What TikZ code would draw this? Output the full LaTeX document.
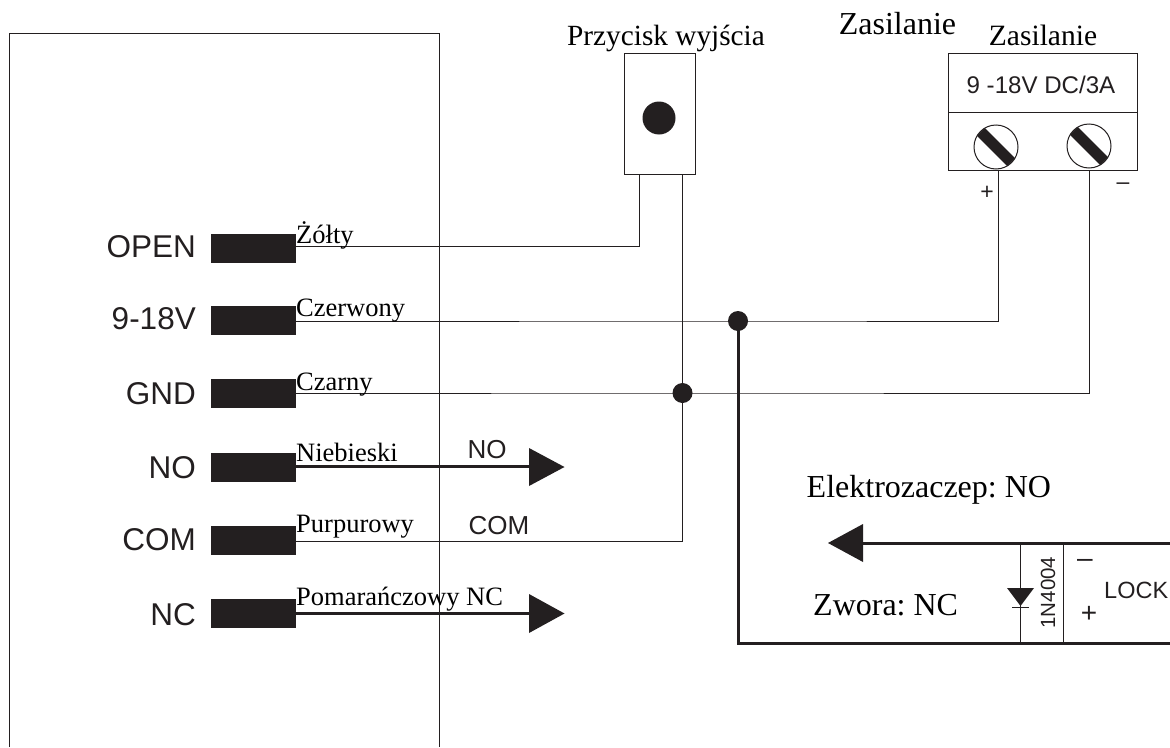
\documentclass[tikz,border=0pt]{standalone}
\usepackage{fontspec}
\setmainfont{Liberation Serif}
\newfontfamily\arialf{Liberation Sans}
\frenchspacing
\definecolor{ink}{HTML}{231F20}
\tikzset{
 thin line/.style={draw=ink,line width=1pt},
 thick line/.style={draw=ink,line width=3pt},
 box/.style={draw=ink,line width=1pt,fill=white,inner sep=0pt,outer sep=0pt},
 term/.style={fill=ink,minimum width=85pt,minimum height=29pt,inner sep=0pt,outer sep=0pt,anchor=west},
 dot/.style={circle,fill=ink,minimum size=20pt,inner sep=0pt,outer sep=0pt},
 pinlabel/.style={font=\arialf\fontsize{31.5}{32}\selectfont,text=ink,anchor=base east,inner sep=0pt},
 wire/.style={font=\fontsize{26.5}{27}\selectfont,text=black,anchor=base west,inner sep=0pt},
 sans/.style={font=\arialf\fontsize{26}{26}\selectfont,text=ink,inner sep=0pt},
 serif/.style={font=\fontsize{32}{33}\selectfont,text=black,inner sep=0pt,anchor=base west},
 screw/.style={circle,draw=ink,line width=1pt,fill=white,minimum size=44pt,inner sep=0pt,outer sep=0pt},
 tri/.style={fill=ink,draw=none},
}
\begin{document}
\begin{tikzpicture}[x=1pt,y=-1pt]
\useasboundingbox (0,0) rectangle (1170,747);
% controller outline
\coordinate (cbl) at (9,747);
\coordinate (ctl) at (9,33);
\coordinate (ctr) at (439,33);
\coordinate (cbr) at (439,747);
\draw[thin line] (cbl) -- (ctl) -- (ctr) -- (cbr);
% terminals
\node[term] (open) at (211,248) {};
\node[term] (pow)  at (211,320) {};
\node[term] (gnd)  at (211,393) {};
\node[term] (no)   at (211,467) {};
\node[term] (com)  at (211,540) {};
\node[term] (nc)   at (211,613) {};
\node[pinlabel] (lopen) at (196,257) {OPEN};
\node[pinlabel] (lpow)  at (196,329) {9-18V};
\node[pinlabel] (lgnd)  at (196,404) {GND};
\node[pinlabel] (lno)   at (196,478) {NO};
\node[pinlabel] (lcom)  at (196,550) {COM};
\node[pinlabel] (lnc)   at (196,625) {NC};
% exit button
\node[box,minimum width=71pt,minimum height=121pt] (btn) at (659.5,113.5) {};
\node[circle,fill=ink,minimum size=33pt,inner sep=0pt] (btndot) at (659,118) {};
\node[font=\fontsize{29.3}{30}\selectfont,anchor=base,inner sep=0pt] (btnl) at (666,45.5) {Przycisk wyjścia};
% supply
\node[box,minimum width=189pt,minimum height=59pt] (sup1) at (1042.5,82.5) {};
\node[box,minimum width=189pt,minimum height=58pt] (sup2) at (1042.5,141) {};
\node[sans,font=\arialf\fontsize{24.1}{25}\selectfont] (suptxt) at (1041,85) {9 -18V DC/3A};
\node[font=\fontsize{29.5}{30}\selectfont,anchor=base,inner sep=0pt] (zas2) at (1043,45) {Zasilanie};
\node[font=\fontsize{32}{33}\selectfont,anchor=base,inner sep=0pt] (zas1) at (897.5,34) {Zasilanie};
\node[screw] (s1) at (996,147) {};
\node[screw] (s2) at (1089,146) {};
\fill[ink,rotate around={-45:(996,147)}] (974.5,141.5) rectangle (1017.5,152.5);
\fill[ink,rotate around={-45:(1089,146)}] (1067.5,140.5) rectangle (1110.5,151.5);
\node[sans,font=\arialf\fontsize{23}{23}\selectfont] (plus1) at (987,193) {+};
\node[sans,font=\arialf\fontsize{23}{23}\selectfont] (minus1) at (1123,186) {–};
% junction points
\node[dot] (j1) at (738,321) {};
\node[dot] (j2) at (682.5,393) {};
% wires
\draw[thin line] ([yshift=1.5pt]open.east) -- (639,246.5) -- (639,174);
\draw[thin line] ([yshift=-1pt]pow.east) -- (j1.center) -- (998,321) -- (998,170);
\draw[thin line] (gnd.east) -- (j2.center) -- (1089,393) -- (1089,170);
\draw[thin line] (682.5,174) -- (682.5,541) -- (296,541);
% NO, NC outputs
\coordinate (noend) at (530,466);
\coordinate (ncend) at (530,613);
\draw[line width=3pt,draw=ink] (no.east |- noend) -- (noend);
\draw[line width=3pt,draw=ink] (nc.east) -- (ncend);
\fill[tri] (529,448) -- (564.5,467) -- (529,486) -- cycle;
\fill[tri] (529,594) -- (564.5,613.5) -- (529,633) -- cycle;
% wire labels
\node[wire] at (296,243) {Żółty};
\node[wire] at (296,316.5) {Czerwony};
\node[wire] at (296,390) {Czarny};
\node[wire] at (296,461) {Niebieski};
\node[wire] at (296,532) {Purpurowy};
\node[wire] at (296,605) {Pomarańczowy NC};
\node[sans] at (487,450) {NO};
\node[sans] at (499,526) {COM};
% lock
\draw[thick line] (738,321) -- (738,643) -- (1170,643);
\draw[thick line] (1170,543) -- (860,543);
\fill[tri] (828,543) -- (863,524) -- (863,562) -- cycle;
\draw[thin line] (1020,543) -- (1020,643);
\draw[thin line] (1063.5,543) -- (1063.5,645);
\fill[tri] (1007,588) -- (1034,588) -- (1020.5,606) -- cycle;
\draw[thin line] (1012,607) -- (1029,607);
\node[sans,font=\arialf\fontsize{20.5}{21}\selectfont,rotate=90] at (1048,592.5) {1N4004};
\node[sans,font=\arialf\fontsize{28}{28}\selectfont] at (1085,563) {–};
\node[sans,font=\arialf\fontsize{28}{28}\selectfont] at (1089,614) {+};
\node[sans,font=\arialf\fontsize{23.5}{24}\selectfont,anchor=west] at (1104,590) {LOCK};
\node[serif] at (806.5,497) {Elektrozaczep: NO};
\node[serif] at (813,615) {Zwora: NC};
\end{tikzpicture}
\end{document}
